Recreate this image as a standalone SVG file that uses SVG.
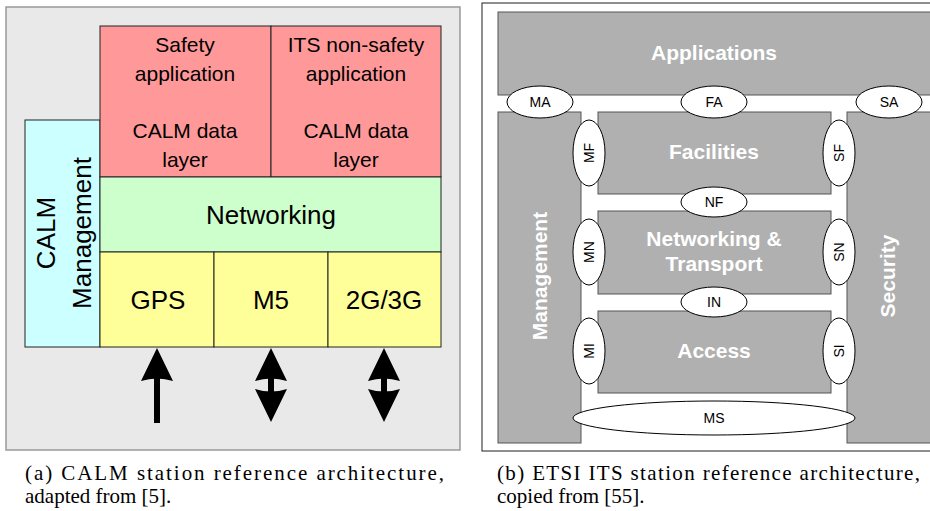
<svg xmlns="http://www.w3.org/2000/svg" width="930" height="511" viewBox="0 0 930 511">
<style>
.t{font-family:"Liberation Sans",Arial,sans-serif;fill:#000;text-anchor:middle}
.w{font-family:"Liberation Sans",Arial,sans-serif;fill:#fff;font-weight:bold;text-anchor:middle;font-size:21px}
.b{stroke:#222;stroke-width:1}
.g{fill:#b0b0b0;stroke:#555;stroke-width:1}
.e{fill:#fff;stroke:#000;stroke-width:1}
.s{font-family:"Liberation Sans",Arial,sans-serif;font-size:14px;text-anchor:middle;fill:#000}
.c{font-family:"Liberation Serif","Times New Roman",serif;font-size:21px;fill:#000}
</style>
<rect width="930" height="511" fill="#fff"/>
<g id="panel-a">
<rect x="6" y="7" width="454" height="443" fill="#e9e9e9" stroke="#999" stroke-width="1.5"/>
<g id="calm-mgmt"><rect class="b" x="25" y="120" width="75" height="227" fill="#ccffff"/>
<text class="t" font-size="26" transform="translate(55,233) rotate(-90)">CALM</text>
<text class="t" font-size="26" transform="translate(91,233) rotate(-90)">Management</text></g>
<g id="safety"><rect class="b" x="100" y="26" width="171" height="151" fill="#ff9999"/>
<text class="t" font-size="21" x="185" y="52">Safety</text>
<text class="t" font-size="21" x="185" y="81">application</text>
<text class="t" font-size="21" x="185" y="138">CALM data</text>
<text class="t" font-size="21" x="185" y="167">layer</text></g>
<g id="nonsafety"><rect class="b" x="271" y="26" width="170" height="151" fill="#ff9999"/>
<text class="t" font-size="21" x="356" y="52">ITS non-safety</text>
<text class="t" font-size="21" x="356" y="81">application</text>
<text class="t" font-size="21" x="356" y="138">CALM data</text>
<text class="t" font-size="21" x="356" y="167">layer</text></g>
<g id="networking"><rect class="b" x="100" y="177" width="341" height="75" fill="#ccffcc"/>
<text class="t" font-size="26" x="271" y="224">Networking</text></g>
<g id="gps"><rect class="b" x="100" y="252" width="114" height="95" fill="#ffff99"/>
<text class="t" font-size="26" x="158" y="309">GPS</text></g>
<g id="m5"><rect class="b" x="214" y="252" width="114" height="95" fill="#ffff99"/>
<text class="t" font-size="26" x="271" y="309">M5</text></g>
<g id="g23"><rect class="b" x="328" y="252" width="113" height="95" fill="#ffff99"/>
<text class="t" font-size="26" x="384" y="309">2G/3G</text></g>
<g id="arrows" fill="#000">
<path d="M157,348 L141,381 Q157,376 173,381 Z"/><rect x="154" y="378" width="6" height="45"/>
<path d="M271,348 L255,381 Q271,376 287,381 Z"/><rect x="268" y="378" width="6" height="14"/><path d="M255,389 Q271,394 287,389 L271,422 Z"/>
<path d="M384,348 L368,381 Q384,376 400,381 Z"/><rect x="381" y="378" width="6" height="14"/><path d="M368,389 Q384,394 400,389 L384,422 Z"/>
</g>
</g>
<g id="panel-b">
<rect x="482" y="3" width="460" height="448" fill="#fff" stroke="#444" stroke-width="1.2"/>
<g id="applications"><rect class="g" x="498" y="12" width="440" height="83"/><text class="w" x="714" y="60">Applications</text></g>
<g id="management"><rect class="g" x="498" y="112" width="83" height="331"/><text class="w" transform="translate(547,276) rotate(-90)">Management</text></g>
<g id="security"><rect class="g" x="847" y="112" width="90" height="331"/><text class="w" transform="translate(895,276) rotate(-90)">Security</text></g>
<g id="facilities"><rect class="g" x="598" y="112" width="233" height="82"/><text class="w" x="714" y="159">Facilities</text></g>
<g id="nettrans"><rect class="g" x="598" y="211" width="233" height="83"/><text class="w" x="714" y="246">Networking &amp;</text><text class="w" x="714" y="271">Transport</text></g>
<g id="access"><rect class="g" x="598" y="311" width="233" height="82"/><text class="w" x="714" y="358">Access</text></g>
<g id="interfaces">
<ellipse class="e" cx="540" cy="102" rx="33" ry="16"/><text class="s" x="540" y="107">MA</text>
<ellipse class="e" cx="714" cy="102" rx="33" ry="16"/><text class="s" x="714" y="107">FA</text>
<ellipse class="e" cx="889" cy="102" rx="33" ry="16"/><text class="s" x="889" y="107">SA</text>
<ellipse class="e" cx="714" cy="202" rx="33" ry="15"/><text class="s" x="714" y="207">NF</text>
<ellipse class="e" cx="714" cy="302" rx="33" ry="15"/><text class="s" x="714" y="307">IN</text>
<ellipse class="e" cx="589" cy="153" rx="16" ry="33"/><text class="s" transform="translate(594,153) rotate(-90)">MF</text>
<ellipse class="e" cx="589" cy="252" rx="16" ry="33"/><text class="s" transform="translate(594,252) rotate(-90)">MN</text>
<ellipse class="e" cx="589" cy="351" rx="16" ry="33"/><text class="s" transform="translate(594,351) rotate(-90)">MI</text>
<ellipse class="e" cx="839" cy="153" rx="16" ry="33"/><text class="s" transform="translate(844,153) rotate(-90)">SF</text>
<ellipse class="e" cx="839" cy="252" rx="16" ry="33"/><text class="s" transform="translate(844,252) rotate(-90)">SN</text>
<ellipse class="e" cx="839" cy="351" rx="16" ry="33"/><text class="s" transform="translate(844,351) rotate(-90)">SI</text>
<ellipse class="e" cx="714" cy="418" rx="141" ry="17"/><text class="s" x="714" y="423">MS</text>
</g>
</g>
<g id="captions">
<text class="c" x="25" y="480" textLength="419" lengthAdjust="spacing">(a) CALM station reference architecture,</text>
<text class="c" x="25" y="503">adapted from [5].</text>
<text class="c" x="497" y="480" textLength="423" lengthAdjust="spacing">(b) ETSI ITS station reference architecture,</text>
<text class="c" x="497" y="503">copied from [55].</text>
</g>
</svg>
